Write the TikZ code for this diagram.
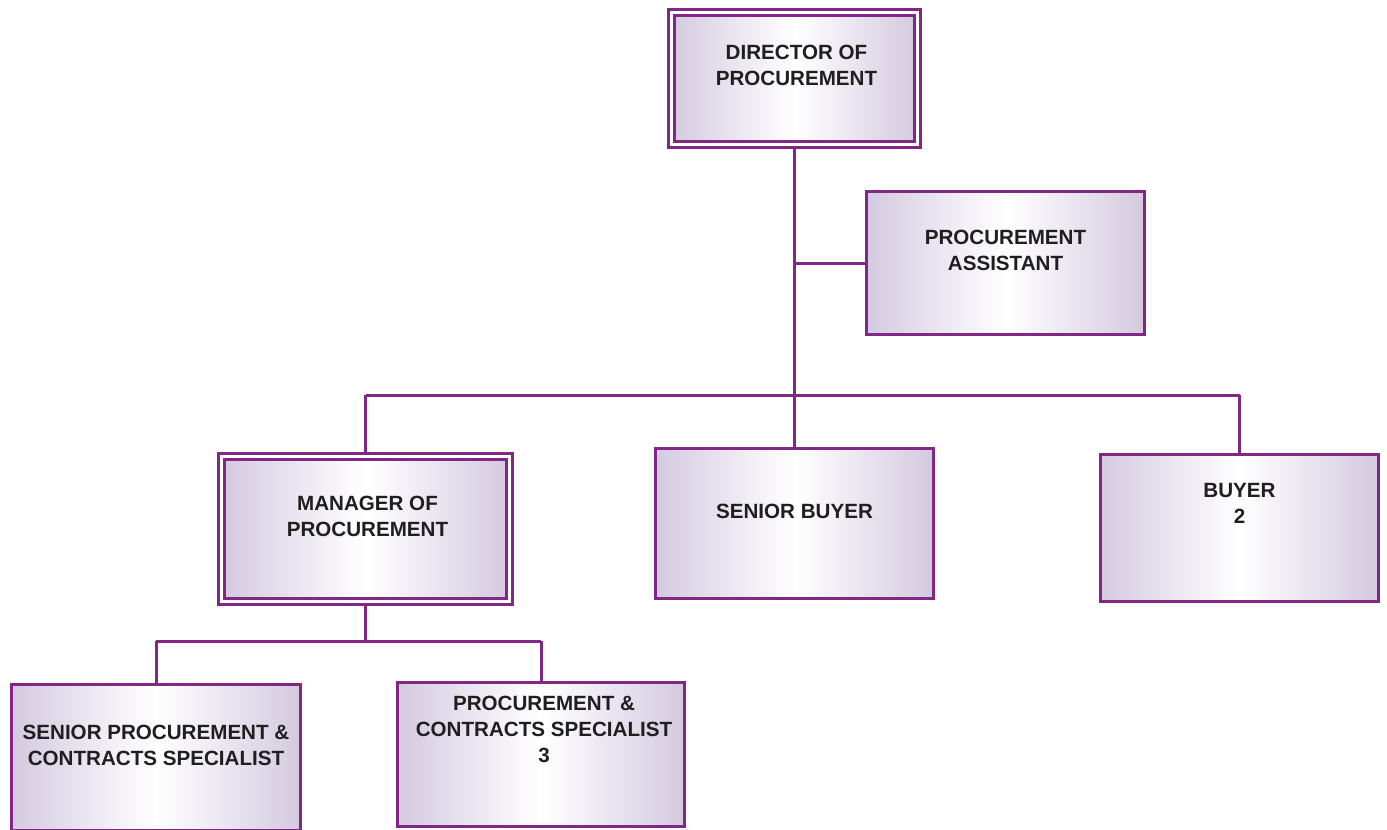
\documentclass[tikz,border=0pt]{standalone}
\usepackage{fontspec}
\setmainfont{Liberation Sans}
\usetikzlibrary{backgrounds}
\definecolor{orgpurple}{RGB}{128,40,132}
\definecolor{orglav}{RGB}{212,202,224}
\tikzset{
  post/.style={draw=orgpurple,line width=1.5pt,inner sep=0pt,
    left color=orglav,right color=orglav!95!black!5!orglav,middle color=white},
  headpost/.style={post,double=white,line width=1.5pt,double distance=1.5pt},
  lbl/.style={align=center,font=\fontsize{10.3}{13}\selectfont\bfseries,text=black!88},
  link/.style={draw=orgpurple,line width=1.5pt}
}
\begin{document}
\begin{tikzpicture}[x=0.5pt,y=-0.5pt]
\useasboundingbox (0,0) rectangle (1387,830);
% boxes
\node[headpost,minimum width=123pt,minimum height=66pt] (dir) at (794.5,78.5) {};
\node[post,minimum width=139pt,minimum height=71.5pt] (asst) at (1005.5,263) {};
\node[headpost,minimum width=144pt,minimum height=72.5pt] (mgr) at (365.5,529) {};
\node[post,minimum width=139pt,minimum height=75pt] (sbuyer) at (794.5,523.5) {};
\node[post,minimum width=139pt,minimum height=73.5pt] (buyer) at (1239.5,528) {};
\node[post,minimum width=144.5pt,minimum height=73pt] (spcs) at (156,757.5) {};
\node[post,minimum width=143.5pt,minimum height=72pt] (pcs) at (541,754.5) {};
% texts
\node[lbl] (dirtxt) at ([xshift=1pt,yshift=6.5pt]dir.center) {DIRECTOR OF\\PROCUREMENT};
\node[lbl] (assttxt) at ([yshift=6.5pt]asst.center) {PROCUREMENT\\ASSISTANT};
\node[lbl] (mgrtxt) at ([xshift=1pt,yshift=6.5pt]mgr.center) {MANAGER OF\\PROCUREMENT};
\node[lbl] (sbuyertxt) at ([yshift=6.25pt]sbuyer.center) {SENIOR BUYER};
\node[lbl] (buyertxt) at ([yshift=12.5pt]buyer.center) {BUYER\\2};
\node[lbl] (spcstxt) at ([yshift=6.25pt]spcs.center) {SENIOR PROCUREMENT \&\\CONTRACTS SPECIALIST};
\node[lbl] (pcstxt) at ([xshift=1.5pt,yshift=12.75pt]pcs.center) {PROCUREMENT \&\\CONTRACTS SPECIALIST\\3};
% lines
\begin{scope}[on background layer]
\coordinate (bus) at (794.5,395);
\coordinate (subbus) at (365.5,641);
\draw[link] (dir.south) -- (bus);
\draw[link] (dir.south |- asst.west) -- (asst.west);
\draw[link] (mgr.north |- bus) -- (buyer.north |- bus);
\draw[link] (mgr.north |- bus) -- (mgr.north);
\draw[link] (bus) -- (sbuyer.north);
\draw[link] (buyer.north |- bus) -- (buyer.north);
\draw[link] (mgr.south) -- (subbus);
\draw[link] (spcs.north |- subbus) -- (pcs.north |- subbus);
\draw[link] (spcs.north |- subbus) -- (spcs.north);
\draw[link] (pcs.north |- subbus) -- (pcs.north);
\end{scope}
\end{tikzpicture}
\end{document}
